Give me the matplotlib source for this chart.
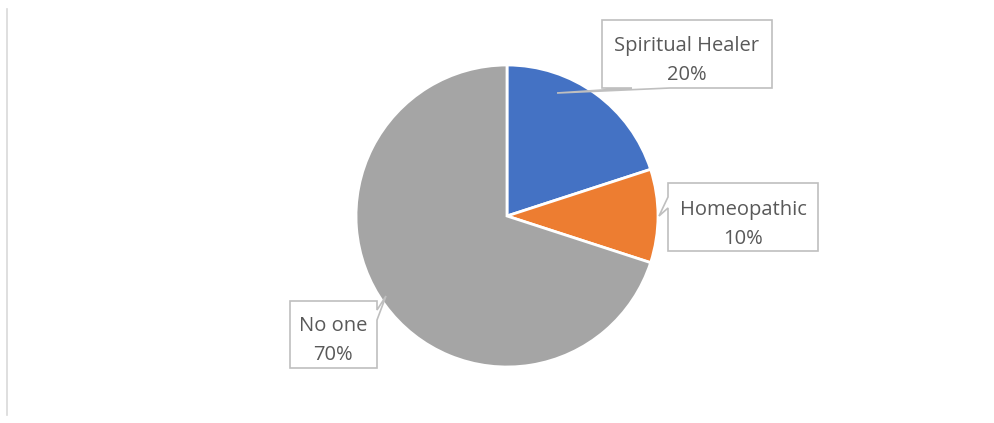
import matplotlib.pyplot as plt
from matplotlib.patches import Polygon

labels = ['Spiritual Healer', 'Homeopathic', 'No one']
shares = [20, 10, 70]
colors = ['#4472C4', '#ED7D31', '#A5A5A5']

W, H = 995, 423
fig = plt.figure(figsize=(W / 100, H / 100), dpi=100)
ax = fig.add_axes([0, 0, 1, 1])

# pie, pixel coords with y flipped
cx, cy, r = 507, H - 216, 151
ax.pie(shares, colors=colors, startangle=90, counterclock=False,
       center=(cx, cy), radius=r, frame=True,
       wedgeprops=dict(edgecolor='white', linewidth=2))
ax.set_xlim(0, W)
ax.set_ylim(0, H)
ax.set_aspect('equal')
ax.axis('off')

# left border line
ax.plot([7, 7], [H - 9, H - 415], color='#D9D9D9', lw=1.2)


def callout(pts, text_xy, label, pct):
    poly = Polygon([(x, H - y) for x, y in pts], closed=True,
                   facecolor='white', edgecolor='#BFBFBF', lw=1.2, zorder=5)
    ax.add_patch(poly)
    tx, ty = text_xy
    ax.text(tx, H - ty, label, ha='center', va='center', fontsize=14.5,
            color='#595959', family='Open Sans', zorder=6)
    ax.text(tx, H - ty - 29, f'{pct}%', ha='center', va='center', fontsize=14.5,
            color='#595959', family='Open Sans', zorder=6)


# Spiritual Healer: box 602-772 x 20-88, pointer down-left
callout([(602, 20), (772, 20), (772, 88), (670, 88), (557, 93), (632, 88), (602, 88)],
        (687, 46), labels[0], shares[0])
# Homeopathic: box 668-818 x 183-251, pointer left
callout([(668, 183), (818, 183), (818, 251), (668, 251), (668, 208), (659, 216), (668, 197)],
        (743, 210), labels[1], shares[1])
# No one: box 290-377 x 301-368, pointer up-right
callout([(290, 301), (377, 301), (377, 310), (386, 296), (377, 320), (377, 368), (290, 368)],
        (333, 326), labels[2], shares[2])

fig.savefig('out.png', dpi=100)
